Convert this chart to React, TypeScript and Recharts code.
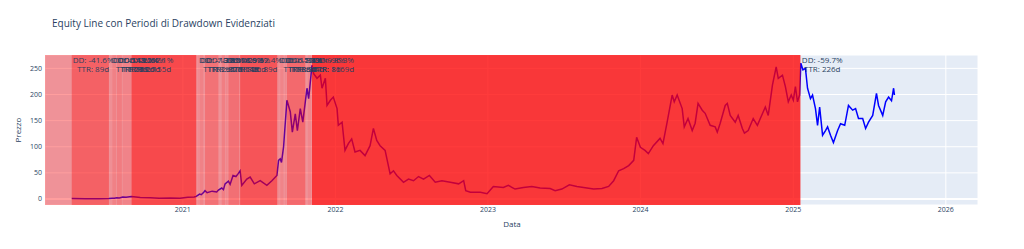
import React from "react";
import {
  LineChart,
  Line,
  XAxis,
  YAxis,
  CartesianGrid,
  ReferenceArea,
  ReferenceLine,
} from "recharts";

// equity line (daily closes)
const equityDates = [
  "2020-04-10", "2020-05-12", "2020-06-15", "2020-07-08", "2020-07-16", "2020-07-21", "2020-07-27",
  "2020-08-02", "2020-08-10", "2020-08-18", "2020-08-31", "2020-09-21", "2020-10-15", "2020-11-05",
  "2020-12-02", "2020-12-25", "2021-01-13", "2021-01-28", "2021-02-02", "2021-02-10", "2021-02-14",
  "2021-02-20", "2021-02-23", "2021-02-28", "2021-03-12", "2021-03-23", "2021-03-27", "2021-04-04",
  "2021-04-08", "2021-04-12", "2021-04-20", "2021-04-24", "2021-05-01", "2021-05-08", "2021-05-13",
  "2021-05-18", "2021-05-22", "2021-06-03", "2021-06-11", "2021-06-21", "2021-07-05", "2021-07-21",
  "2021-08-02", "2021-08-14", "2021-08-18", "2021-08-22", "2021-08-25", "2021-08-30", "2021-09-07",
  "2021-09-15", "2021-09-20", "2021-09-27", "2021-10-02", "2021-10-09", "2021-10-15", "2021-10-25",
  "2021-10-29", "2021-11-06", "2021-11-10", "2021-11-18", "2021-11-26", "2021-11-30", "2021-12-08",
  "2021-12-12", "2021-12-20", "2021-12-27", "2022-01-05", "2022-01-08", "2022-01-17", "2022-01-24",
  "2022-02-01", "2022-02-09", "2022-02-17", "2022-03-01", "2022-03-13", "2022-03-25", "2022-04-02",
  "2022-04-10", "2022-04-18", "2022-04-30", "2022-05-12", "2022-05-20", "2022-05-28", "2022-06-13",
  "2022-06-25", "2022-07-07", "2022-07-19", "2022-07-31", "2022-08-14", "2022-08-28", "2022-09-13",
  "2022-10-03", "2022-10-23", "2022-11-04", "2022-11-09", "2022-11-20", "2022-12-14", "2022-12-30",
  "2023-01-14", "2023-02-07", "2023-02-19", "2023-03-07", "2023-03-27", "2023-04-16", "2023-05-06",
  "2023-05-30", "2023-06-11", "2023-06-27", "2023-07-15", "2023-08-02", "2023-08-18", "2023-09-11",
  "2023-10-01", "2023-10-17", "2023-10-29", "2023-11-10", "2023-11-22", "2023-12-04", "2023-12-16",
  "2023-12-23", "2024-01-01", "2024-01-12", "2024-01-20", "2024-02-01", "2024-02-17", "2024-02-24",
  "2024-03-05", "2024-03-17", "2024-03-22", "2024-03-29", "2024-04-10", "2024-04-15", "2024-04-24",
  "2024-05-04", "2024-05-11", "2024-05-18", "2024-05-28", "2024-06-04", "2024-06-16", "2024-06-28",
  "2024-07-03", "2024-07-10", "2024-07-22", "2024-07-27", "2024-08-03", "2024-08-15", "2024-08-22",
  "2024-09-01", "2024-09-06", "2024-09-15", "2024-09-27", "2024-10-07", "2024-10-14", "2024-10-26",
  "2024-11-02", "2024-11-12", "2024-11-21", "2024-11-26", "2024-12-06", "2024-12-13", "2024-12-20",
  "2024-12-27", "2025-01-01", "2025-01-06", "2025-01-11", "2025-01-16", "2025-01-19", "2025-01-24",
  "2025-01-30", "2025-02-04", "2025-02-11", "2025-02-16", "2025-02-23", "2025-02-28", "2025-03-05",
  "2025-03-12", "2025-03-19", "2025-03-24", "2025-03-31", "2025-04-07", "2025-04-17", "2025-04-24",
  "2025-05-04", "2025-05-13", "2025-05-23", "2025-05-30", "2025-06-06", "2025-06-16", "2025-06-23",
  "2025-06-30", "2025-07-10", "2025-07-19", "2025-07-24", "2025-08-03", "2025-08-10", "2025-08-17",
  "2025-08-24", "2025-08-29", "2025-08-31",
];
const equityValues = [
  0.95, 0.6, 0.7, 1.0, 1.5, 1.3, 2.2,
  1.9, 3.9, 3.4, 4.6, 3.0, 2.4, 1.5,
  2.1, 1.5, 3.3, 4.0, 5.0, 9.5, 8.2,
  13, 16, 12, 15, 13.5, 17, 21,
  18, 29, 34, 28, 45, 43, 48,
  54, 26, 38, 42, 29, 35, 26,
  35, 45, 74, 77, 70, 100, 189,
  167, 128, 163, 131, 173, 147, 212,
  192, 256, 240, 231, 237, 212, 231,
  179, 189, 195, 173, 141, 147, 93,
  106, 115, 90, 93, 83, 102, 135,
  112, 102, 93, 48, 54, 45, 32,
  38, 35, 43, 38, 45, 32, 35,
  32, 29, 35, 16, 13, 13, 10,
  24, 22, 26, 19, 22, 24, 21,
  20, 16, 19, 27, 24, 22, 19,
  20, 24, 35, 54, 58, 64, 74,
  118, 99, 93, 87, 102, 116, 106,
  147, 199, 186, 199, 173, 138, 154,
  131, 145, 183, 170, 164, 141, 138,
  128, 145, 179, 183, 160, 147, 160,
  135, 126, 131, 154, 141, 154, 176,
  160, 218, 253, 231, 237, 215, 186,
  199, 189, 215, 186, 199, 260, 247,
  250, 212, 192, 199, 173, 141, 176,
  122, 131, 138, 122, 108, 131, 144,
  141, 179, 170, 173, 154, 154, 135,
  147, 160, 202, 179, 160, 186, 195,
  188, 212, 199,
];

// drawdown periods (end null = not recovered yet)
const ddStart = [
  "2020-04-10", "2020-07-12", "2020-07-16", "2020-07-27", "2020-08-10", "2020-08-31", "2021-02-06",
  "2021-02-10", "2021-02-23", "2021-04-04", "2021-04-14", "2021-04-20", "2021-05-18", "2021-08-17",
  "2021-08-22", "2021-09-02", "2021-09-07", "2021-10-27", "2021-11-06", "2025-01-19",
];
const ddEnd: (string | null)[] = [
  "2020-07-08", "2020-07-14", "2020-07-25", "2020-08-08", "2020-08-30", "2021-02-02", "2021-02-08",
  "2021-02-19", "2021-03-27", "2021-04-12", "2021-04-18", "2021-05-16", "2021-08-15", "2021-08-20",
  "2021-08-30", "2021-09-05", "2021-10-21", "2021-11-04", "2025-01-18", null,
];
const ddDepth = [
  -41.6, -6.1, -14.2, -18.5, -12.4, -62.1, -7.3,
  -13.8, -27.5, -16.9, -8.8, -29.3, -52.4, -6.5,
  -11.7, -7.9, -34.6, -9.8, -96.3, -59.7,
];
const ddTTR = [89, 2, 9, 12, 20, 155, 2, 9, 32, 8, 4, 26, 89, 3, 8, 3, 44, 8, 1169, 226];

const underlaySpan = ["2020-02-06", "2021-11-06"];
const xRange = ["2020-02-06", "2026-03-19"];
const yearTicks = ["2021-01-01", "2022-01-01", "2023-01-01", "2024-01-01", "2025-01-01", "2026-01-01"];
const priceTicks = [0, 50, 100, 150, 200, 250];
const priceRange = [-11.5, 275.6];

const FONT = '"Open Sans", verdana, arial, sans-serif';
const INK = "#2a3f5f";
const LABEL_SIZE = 8;
const ts = (d: string) => Date.parse(d);

let ctx: CanvasRenderingContext2D | null = null;
function textWidth(s: string, size: number) {
  if (!ctx) ctx = document.createElement("canvas").getContext("2d");
  if (!ctx) return s.length * size * 0.55;
  ctx.font = `${size}px "Open Sans"`;
  return ctx.measureText(s).width;
}

function DrawdownLabel(props: any) {
  const { viewBox, dd, ttr } = props;
  if (!viewBox) return null;
  const l1 = `DD: ${dd.toFixed(1)}%`;
  const l2 = `TTR: ${ttr}d`;
  const w = Math.max(textWidth(l1, LABEL_SIZE), textWidth(l2, LABEL_SIZE));
  const cx = viewBox.x + 1 + w / 2;
  return (
    <text textAnchor="middle" fontFamily={FONT} fontSize={LABEL_SIZE} fill={INK}>
      <tspan x={cx} y={viewBox.y + 8}>{l1}</tspan>
      <tspan x={cx} y={viewBox.y + 16.7}>{l2}</tspan>
    </text>
  );
}

export default function App() {
  const data = equityDates.map((d, i) => ({ t: ts(d), v: equityValues[i] }));
  const tickStyle = { fontSize: 7, fontFamily: FONT, fill: INK };

  return (
    <div style={{ position: "absolute", left: 0, top: 0, width: 1024, height: 249, background: "#fff" }}>
      <LineChart width={1024} height={249} data={data} margin={{ top: 55, right: 46, bottom: 24, left: 5 }}>
        <CartesianGrid fill="#E5ECF6" fillOpacity={1} stroke="#fff" strokeWidth={1} />
        <XAxis
          dataKey="t"
          type="number"
          domain={xRange.map(ts)}
          allowDataOverflow
          ticks={yearTicks.map(ts)}
          tickFormatter={(t: number) => String(new Date(t).getUTCFullYear())}
          tick={tickStyle}
          tickLine={false}
          axisLine={false}
          tickSize={0}
          tickMargin={2}
          height={20}
        />
        <YAxis
          type="number"
          domain={priceRange}
          allowDataOverflow
          ticks={priceTicks}
          tick={tickStyle}
          tickLine={false}
          axisLine={false}
          tickSize={0}
          tickMargin={3}
          width={40}
        />
        <ReferenceLine y={0} stroke="#fff" strokeWidth={2} zIndex={-50} />
        <Line
          dataKey="v"
          type="linear"
          stroke="blue"
          strokeWidth={1.5}
          dot={false}
          activeDot={false}
          isAnimationActive={false}
        />
        <ReferenceArea
          x1={ts(underlaySpan[0])}
          x2={ts(underlaySpan[1])}
          fill="red"
          fillOpacity={0.38}
          stroke="none"
          zIndex={450}
        />
        {ddStart.map((s, i) =>
          ddEnd[i] ? (
            <ReferenceArea
              key={`a${i}`}
              x1={ts(s)}
              x2={ts(ddEnd[i] as string)}
              fill="red"
              fillOpacity={(0.8 * Math.abs(ddDepth[i])) / 100}
              stroke="none"
              zIndex={450}
            />
          ) : null,
        )}
        {ddStart.map((s, i) => (
          <ReferenceLine
            key={`l${i}`}
            x={ts(s)}
            stroke="none"
            zIndex={2000}
            label={<DrawdownLabel dd={ddDepth[i]} ttr={ddTTR[i]} />}
          />
        ))}
      </LineChart>
      <svg
        width={1024}
        height={249}
        style={{ position: "absolute", left: 0, top: 0, pointerEvents: "none" }}
        fontFamily={FONT}
        fill={INK}
      >
        <text x={52} y={26.5} fontSize={10}>
          Equity Line con Periodi di Drawdown Evidenziati
        </text>
        <text x={512} y={227} fontSize={8} textAnchor="middle">
          Data
        </text>
        <text x={20.7} y={130} fontSize={8} textAnchor="middle" transform="rotate(-90 20.7 130)">
          Prezzo
        </text>
      </svg>
    </div>
  );
}
